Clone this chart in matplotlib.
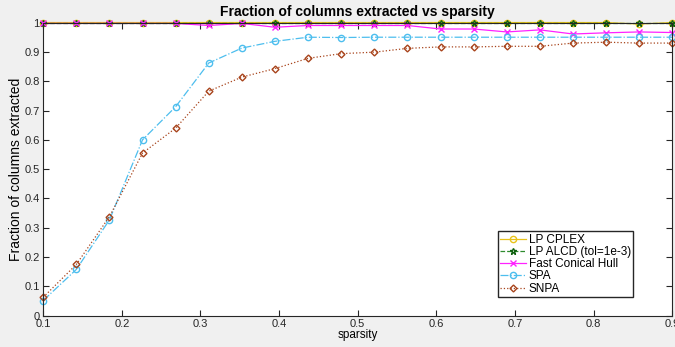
import numpy as np
import matplotlib.pyplot as plt

plt.rcParams['font.family'] = ['Liberation Sans', 'DejaVu Sans']

sparsity = np.linspace(0.1, 0.9, 20)

lp_cplex = [1, 1, 1, 1, 1, 1, 1, 1, 1, 1, 1, 1, 1, 1, 1, 1, 1, 1, 0.995, 1]
lp_alcd = [1] * 20
fast_conical_hull = [0.997, 0.997, 0.997, 0.997, 0.997, 0.99, 0.997, 0.984, 0.99, 0.99,
                     0.99, 0.99, 0.978, 0.978, 0.968, 0.975, 0.961, 0.965, 0.968, 0.966]
spa = [0.052, 0.158, 0.327, 0.60, 0.713, 0.862, 0.913, 0.936, 0.95, 0.949,
       0.95, 0.95, 0.95, 0.95, 0.95, 0.95, 0.95, 0.95, 0.95, 0.95]
snpa = [0.063, 0.175, 0.338, 0.555, 0.64, 0.766, 0.814, 0.843, 0.878, 0.894,
        0.899, 0.912, 0.917, 0.917, 0.919, 0.919, 0.93, 0.933, 0.93, 0.93]

fig = plt.figure(figsize=(6.75, 3.47), dpi=100, facecolor='#f0f0f0')
ax = fig.add_axes([0.064, 0.09, 0.932, 0.845])

mk = dict(markersize=4.5, markerfacecolor='none', linewidth=0.9, markeredgewidth=1,
          clip_on=False)
ax.plot(sparsity, lp_cplex, '-o', color='#e8c21a', label='LP CPLEX', **mk)
ax.plot(sparsity, lp_alcd, '--*', color='#2e8b2e', markeredgecolor='#106010',
        label='LP ALCD (tol=1e-3)', **mk)
ax.plot(sparsity, fast_conical_hull, '-x', color='#ff22ff', label='Fast Conical Hull', **mk)
ax.plot(sparsity, spa, '-.o', color='#4dbeee', label='SPA', **mk)
ax.plot(sparsity, snpa, ':D', color='#a8441c', label='SNPA',
        markersize=3.5, markerfacecolor='none', linewidth=0.9, markeredgewidth=1,
        clip_on=False)

ax.set_xlim(0.1, 0.9)
ax.set_ylim(0, 1)
ax.set_xticks(np.arange(0.1, 0.91, 0.1))
ax.set_yticks(np.arange(0, 1.01, 0.1))
ax.set_xticklabels(['0.1', '0.2', '0.3', '0.4', '0.5', '0.6', '0.7', '0.8', '0.9'])
ax.set_yticklabels(['0', '0.1', '0.2', '0.3', '0.4', '0.5', '0.6', '0.7', '0.8', '0.9', '1'])
ax.tick_params(direction='in', top=True, right=True, labelsize=8, colors='#262626',
               length=4, width=0.8, pad=2.5)
for s in ax.spines.values():
    s.set_color('#262626')
    s.set_linewidth(0.8)

ax.set_title('Fraction of columns extracted vs sparsity', fontsize=10,
             fontweight='bold', pad=5)
ax.set_xlabel('sparsity', fontsize=8.5, labelpad=0)
ax.set_ylabel('Fraction of columns extracted', fontsize=10, labelpad=1)

ax.legend(loc='lower right', bbox_to_anchor=(0.938, 0.064), fontsize=8.5,
          fancybox=False, edgecolor='#262626', framealpha=1,
          handlelength=2.2, handletextpad=0.2, borderpad=0.2, labelspacing=0.02,
          borderaxespad=0)

fig.savefig('out.png', dpi=100, facecolor=fig.get_facecolor())
